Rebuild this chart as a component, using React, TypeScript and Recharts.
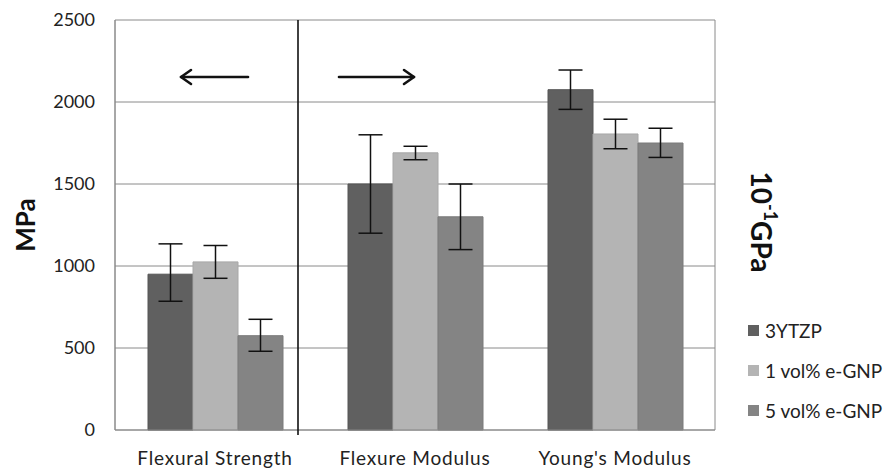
import { Bar, BarChart, CartesianGrid, ErrorBar, XAxis, YAxis, Label } from "recharts"

const categories = ["Flexural Strength", "Flexure Modulus", "Young's Modulus"]
const seriesNames = ["3YTZP", "1 vol% e-GNP", "5 vol% e-GNP"]
const ytzp = [950, 1500, 2075]
const ytzpErr = [[165, 185], [300, 300], [120, 120]]
const gnp1 = [1025, 1690, 1805]
const gnp1Err = [[100, 100], [42, 40], [90, 90]]
const gnp5 = [575, 1300, 1750]
const gnp5Err = [[95, 100], [200, 200], [88, 90]]
const yTicks = [0, 500, 1000, 1500, 2000, 2500]

const colors = ["#606060", "#b4b4b4", "#848484"]
const strokes = ["#555555", "#a8a8a8", "#7a7a7a"]
const font = "Lato, 'Open Sans', sans-serif"

const data = categories.map((name, i) => ({
    name,
    ytzp: ytzp[i],
    ytzpErr: ytzpErr[i],
    gnp1: gnp1[i],
    gnp1Err: gnp1Err[i],
    gnp5: gnp5[i],
    gnp5Err: gnp5Err[i],
}))

const keys = ["ytzp", "gnp1", "gnp5"]

export default function App() {
    return (
        <div style={{ position: "absolute", left: 0, top: 0, width: 891, height: 470, background: "#fff", fontFamily: font }}>
            <BarChart
                width={891}
                height={470}
                data={data}
                margin={{ top: 20, right: 176, left: 55, bottom: 0 }}
                barCategoryGap="16.5%"
                barGap={0}
            >
                <CartesianGrid stroke="#8a8a8a" verticalPoints={[115, 715]} />
                <XAxis
                    dataKey="name"
                    height={40}
                    tickSize={0}
                    tickMargin={22}
                    axisLine={{ stroke: "#8a8a8a" }}
                    tick={{ fontSize: 19, fill: "#222", fontFamily: font, letterSpacing: 0.8 }}
                />
                <YAxis
                    domain={[0, 2500]}
                    ticks={yTicks}
                    width={60}
                    tickSize={0}
                    tickMargin={20}
                    axisLine={{ stroke: "#8a8a8a" }}
                    tick={{ fontSize: 18, fill: "#222", fontFamily: font }}
                >
                    <Label
                        value="MPa"
                        angle={-90}
                        position="insideLeft"
                        offset={-29}
                        style={{ fontSize: 26, fontWeight: "bold", fill: "#111", fontFamily: font, textAnchor: "middle" }}
                    />
                </YAxis>
                {keys.map((k, i) => (
                    <Bar
                        key={k}
                        dataKey={k}
                        name={seriesNames[i]}
                        fill={colors[i]}
                        stroke={strokes[i]}
                        isAnimationActive={false}
                    >
                        <ErrorBar dataKey={k + "Err"} width={12} stroke="#111" strokeWidth={1.5} />
                    </Bar>
                ))}
            </BarChart>

            <svg width={891} height={470} style={{ position: "absolute", left: 0, top: 0, pointerEvents: "none" }}>
                <line x1={298} y1={20} x2={298} y2={435} stroke="#111" strokeWidth={1.6} />
                <g stroke="#111" strokeWidth={2.6} fill="none" strokeLinecap="round" strokeLinejoin="round">
                    <line x1={181} y1={77} x2={248} y2={77} />
                    <polyline points="191,70 181,77 191,84" />
                    <line x1={339} y1={77} x2={414} y2={77} />
                    <polyline points="404,70 414,77 404,84" />
                </g>
                <text
                    x={762}
                    y={222}
                    transform="rotate(90 762 222)"
                    textAnchor="middle"
                    dominantBaseline="central"
                    style={{ fontSize: 28, fontWeight: "bold", fill: "#111", fontFamily: font }}
                >
                    10<tspan dy={-9} fontSize={18}>-1</tspan>
                    <tspan dy={9}>GPa</tspan>
                </text>
            </svg>

            <div style={{ position: "absolute", left: 748, top: 310 }}>
                {seriesNames.map((n, i) => (
                    <div key={n} style={{ display: "flex", alignItems: "center", height: 40, fontSize: 19, color: "#222", whiteSpace: "nowrap" }}>
                        <span style={{ width: 11, height: 11, background: colors[i], marginRight: 6, display: "inline-block" }} />
                        {n}
                    </div>
                ))}
            </div>
        </div>
    )
}
